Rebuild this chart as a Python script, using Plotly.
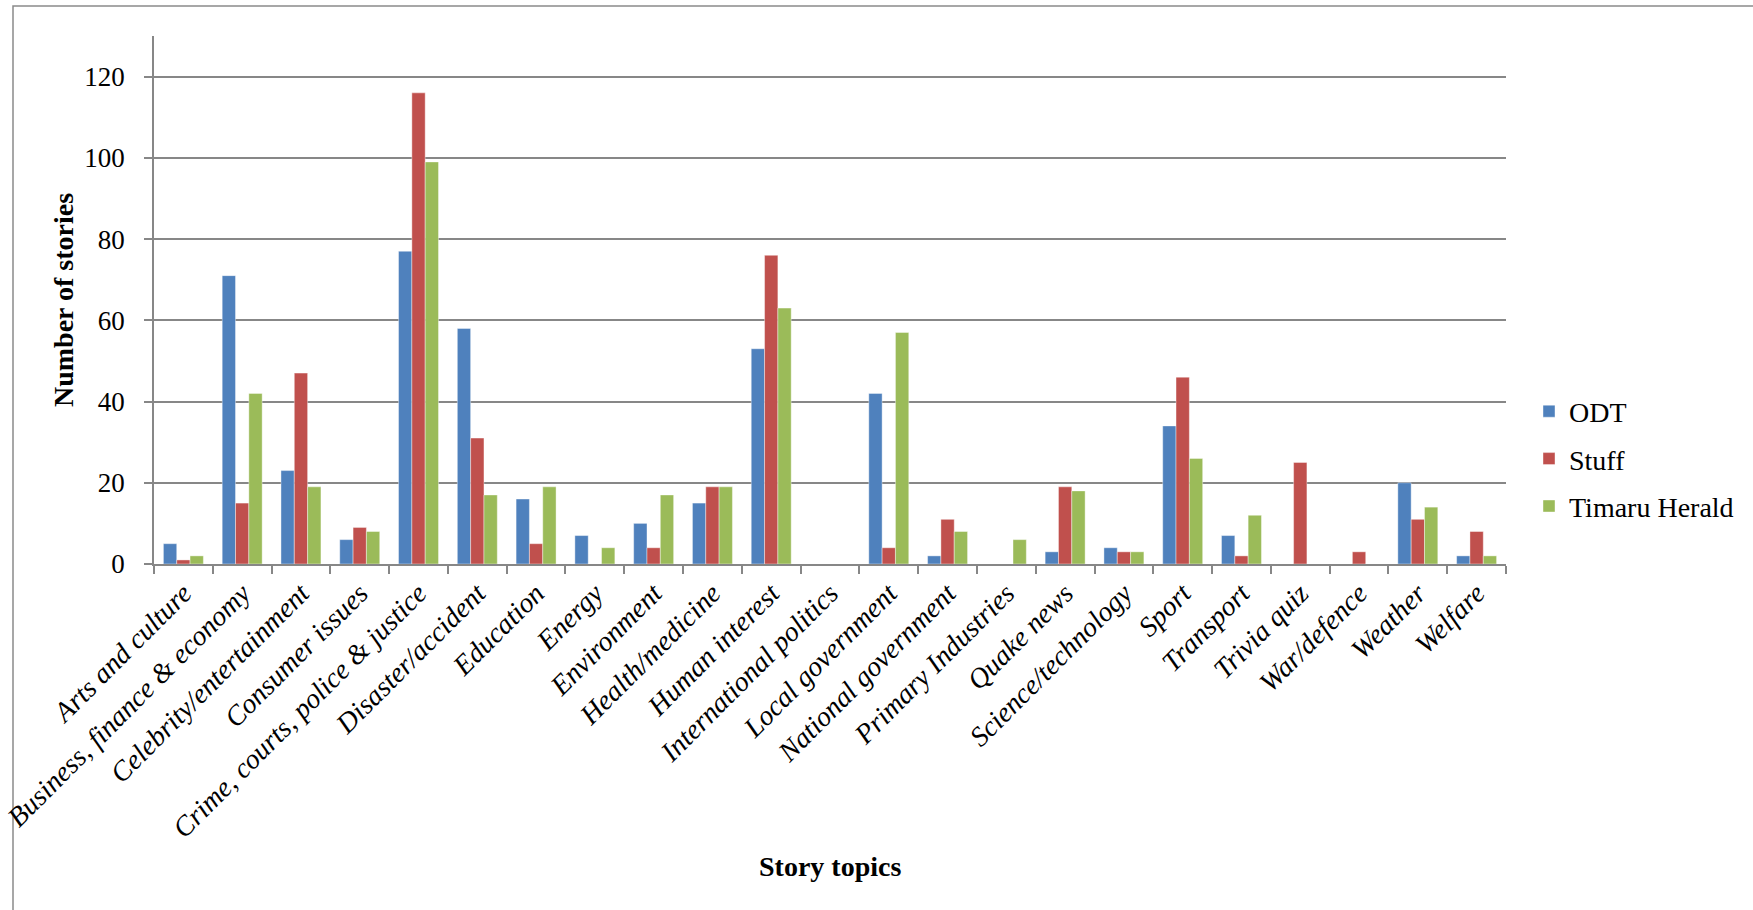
import plotly.graph_objects as go

categories = [
    "Arts and culture", "Business, finance & economy", "Celebrity/entertainment",
    "Consumer issues", "Crime, courts, police & justice", "Disaster/accident",
    "Education", "Energy", "Environment", "Health/medicine", "Human interest",
    "International politics", "Local government", "National government",
    "Primary Industries", "Quake news", "Science/technology", "Sport",
    "Transport", "Trivia quiz", "War/defence", "Weather", "Welfare",
]
odt = [5, 71, 23, 6, 77, 58, 16, 7, 10, 15, 53, 0, 42, 2, 0, 3, 4, 34, 7, 0, 0, 20, 2]
stuff = [1, 15, 47, 9, 116, 31, 5, 0, 4, 19, 76, 0, 4, 11, 0, 19, 3, 46, 2, 25, 3, 11, 8]
timaru = [2, 42, 19, 8, 99, 17, 19, 4, 17, 19, 63, 0, 57, 8, 6, 18, 3, 26, 12, 0, 0, 14, 2]
series_names = ["ODT", "Stuff", "Timaru Herald"]
series_values = [odt, stuff, timaru]
colors = ["#4F81BD", "#C0504D", "#9BBB59"]
y_ticks = [0, 20, 40, 60, 80, 100, 120]

FONT = "Liberation Serif"
GRID = "#878787"

fig = go.Figure()
for name, vals, col in zip(series_names, series_values, colors):
    fig.add_trace(go.Bar(
        x=categories, y=vals, name=name, legendgroup=name,
        marker=dict(color=col, line=dict(color="rgba(255,255,255,0.5)", width=0.8)),
    ))

ml, mr, mt, mb = 154, 247, 36, 346
W, H = 1753, 910
pw = W - ml - mr
ph = H - mt - mb

fig.update_layout(
    width=W, height=H,
    margin=dict(l=ml, r=mr, t=mt, b=mb, autoexpand=False),
    paper_bgcolor="white", plot_bgcolor="white",
    barmode="group", bargap=0.32, bargroupgap=0,
    font=dict(family=FONT, color="black"),
    showlegend=True,
    legend=dict(
        x=(1529 - ml) / pw, xanchor="left",
        y=(mt + ph - 459) / ph, yanchor="middle",
        font=dict(family=FONT, size=28, color="black"),
        bgcolor="rgba(0,0,0,0)",
        traceorder="grouped",
        tracegroupgap=8,
    ),
    xaxis=dict(
        type="category", showline=True, linecolor=GRID, linewidth=1.5,
        ticks="outside", tickson="boundaries", ticklen=8, tickcolor=GRID, tickwidth=1.5,
        tickangle=-45, showgrid=False,
        tickfont=dict(family=FONT, size=28, color="black", style="italic"),
        automargin=False,
    ),
    yaxis=dict(
        range=[0, 130], tickvals=y_ticks, showgrid=True, gridcolor=GRID, gridwidth=1.5,
        showline=True, linecolor=GRID, linewidth=1.5, zeroline=False,
        ticks="outside", ticklen=8, tickcolor=GRID, tickwidth=1.5,
        tickfont=dict(family=FONT, size=27, color="black"),
        ticklabelstandoff=14,
        automargin=False,
    ),
    annotations=[
        dict(text="<b>Number of stories</b>", textangle=-90, showarrow=False,
             xref="paper", yref="paper", x=(63 - ml) / pw, y=(mt + ph - 300) / ph,
             xanchor="center", yanchor="middle", font=dict(family=FONT, size=28, color="black")),
        dict(text="<b>Story topics</b>", showarrow=False,
             xref="paper", yref="paper", x=(830 - ml) / pw, y=(mt + ph - 866) / ph,
             xanchor="center", yanchor="middle", font=dict(family=FONT, size=28, color="black")),
    ],
    shapes=[
        dict(type="rect", xref="paper", yref="paper",
             x0=(13 - ml) / pw, x1=(1800 - ml) / pw,
             y0=(mt + ph - 960) / ph, y1=(mt + ph - 6) / ph,
             line=dict(color="#8a8a8a", width=1.5), fillcolor="rgba(0,0,0,0)", layer="below"),
    ],
)

fig.write_html("out.html")
